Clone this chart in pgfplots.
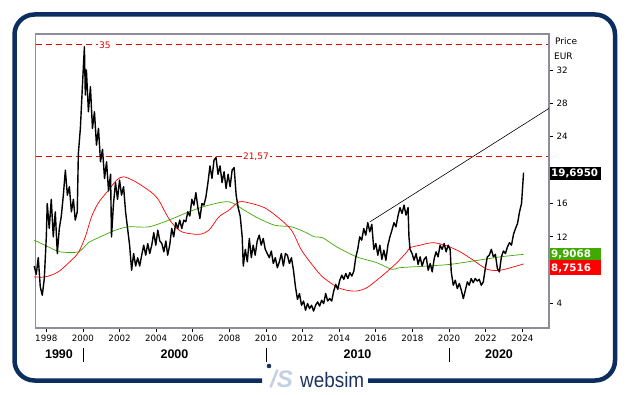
\documentclass[border=0pt]{standalone}
\usepackage{pgfplots}
\pgfplotsset{compat=1.18}
\usepackage{fontspec}
\setmainfont{DejaVu Sans}
\newfontfamily\arialf{Liberation Sans}
\definecolor{navy}{RGB}{12,45,95}
\definecolor{framegray}{RGB}{140,140,155}
\definecolor{magreen}{RGB}{60,170,0}
\definecolor{boxgreen}{RGB}{64,170,0}
\definecolor{lvlred}{RGB}{235,0,0}
\definecolor{logolight}{RGB}{196,208,226}
\definecolor{logonavy}{RGB}{28,50,96}

\begin{document}
\begin{tikzpicture}
\begin{scope}[x=1pt,y=1pt]
\path[use as bounding box] (0,0) rectangle (629,-395);
% outer rounded frame
\draw[navy, line width=4.5pt, rounded corners=20pt]
  (262,-380.5) -- (14.5,-380.5) -- (14.5,-14.5) -- (615,-14.5) -- (615,-380.5) -- (368,-380.5);
% dashed level lines (35 and 21,57)
\foreach \i in {0,...,50} {
  \draw[lvlred, line width=1pt] (36+10*\i,-45) -- (42+10*\i,-45);
  \draw[lvlred, line width=1pt] (36+10*\i,-157) -- (42+10*\i,-157);
}
\draw[lvlred, line width=1pt] (546,-45) -- (549,-45);
\draw[lvlred, line width=1pt] (546,-157) -- (549,-157);
\end{scope}

\begin{axis}[
  at={(35.7pt,-328pt)}, anchor=south west,
  scale only axis, width=513.3pt, height=294pt,
  xmin=1997.42, xmax=2025.46, ymin=1.07, ymax=36.32,
  axis line style={draw=framegray, line width=1.2pt},
  xtick={1998,2000,...,2024}, ytick={4,12,16,24,28,32},
  xtick pos=bottom, ytick pos=right, yticklabel pos=right,
  tick align=outside, major tick length=4pt,
  tick style={black, line width=0.8pt},
  tick label style={font=\fontsize{8.7}{10}\selectfont},
  /pgf/number format/assume math mode=true,
  /pgf/number format/1000 sep={},
  clip=false,
]
\node[fill=white, text=lvlred, inner sep=1.5pt, font=\fontsize{9}{10}\selectfont] at (axis cs:2001.2,35) {35};
\node[fill=white, text=lvlred, inner sep=1.5pt, font=\fontsize{9}{10}\selectfont] at (axis cs:2009.45,21.57) {21,57};

% green MA
\addplot[magreen, line width=0.7pt, smooth] coordinates {
(1997.34,11.6) (1998.11,10.8) (1998.76,10.2) (1999.75,10.2) (2000.30,11.3) (2000.85,11.9)
(2001.78,12.8) (2002.50,13.2) (2003.59,13.2) (2004.69,14.0) (2005.79,15.0) (2006.88,15.8)
(2007.98,16.2) (2008.81,15.2) (2009.52,14.3) (2010.46,13.4) (2011.39,13.2) (2012.10,12.6)
(2012.65,12.0) (2013.09,11.9) (2013.86,10.8) (2014.96,9.6) (2016.05,8.9) (2016.88,8.1)
(2017.32,8.3) (2018.80,8.5) (2020.06,8.7) (2021.32,9.1) (2022.80,9.6) (2024.07,9.9)};

% red MA
\addplot[red, line width=0.7pt, smooth] coordinates {
(1997.34,7.2) (1997.94,7.2) (1998.65,7.8) (1999.37,9.2) (1999.75,10.1) (2000.13,12)
(2000.47,14.4) (2000.85,16.1) (2001.40,17.6) (2001.84,18.8) (2002.22,19.2) (2002.88,18.6)
(2003.76,17.3) (2004.14,16.4) (2004.53,14.8) (2004.85,13.7) (2005.40,12.6) (2006.34,12.3)
(2006.88,12.8) (2007.43,14.4) (2007.98,15.2) (2008.54,16.2) (2009.20,16.0) (2009.91,15.5)
(2010.62,14.4) (2011.39,12.8) (2011.94,10.4) (2012.65,8.3) (2013.09,7.2) (2013.86,6.0)
(2014.41,5.6) (2014.96,5.5) (2015.51,5.9) (2016.05,6.8) (2016.60,7.8) (2017.15,8.9)
(2017.70,10.2) (2017.87,10.7) (2018.42,11) (2019.13,11.3) (2019.90,10.9) (2020.61,10.2)
(2021.32,9.2) (2022.09,8.1) (2022.80,8.0) (2023.52,8.4) (2024.07,8.75)};

% trend line
\addplot[black, line width=0.6pt] coordinates {(2015.68,13.8) (2025.46,27.4)};

% price
\addplot[black, line width=1.4pt, line join=round] coordinates {
(1997.34,8.5) (1997.45,7.5) (1997.56,9.5) (1997.67,6) (1997.78,5) (1997.89,7)
(1998.00,12) (1998.05,16) (1998.16,13) (1998.27,16.5) (1998.38,12) (1998.49,15)
(1998.60,10) (1998.71,13) (1998.82,14.5) (1998.93,17) (1999.04,20) (1999.15,17)
(1999.26,18) (1999.37,15) (1999.48,16.5) (1999.58,14) (1999.69,15) (1999.75,22)
(1999.86,25) (1999.97,30) (2000.08,34.8) (2000.13,29) (2000.19,32) (2000.30,27)
(2000.41,30) (2000.52,25) (2000.63,27) (2000.74,23) (2000.85,25) (2000.96,21)
(2001.07,22.5) (2001.18,19) (2001.29,21) (2001.40,17.5) (2001.51,19.5) (2001.56,12)
(2001.67,16) (2001.78,18.5) (2001.89,16.5) (2002.00,18.8) (2002.11,17) (2002.22,18)
(2002.33,15) (2002.44,13) (2002.55,11) (2002.66,8) (2002.77,10) (2002.88,8.5)
(2002.99,9.5) (2003.10,8.5) (2003.21,9.8) (2003.32,11) (2003.43,9.8) (2003.54,11.2)
(2003.65,10) (2003.76,11) (2003.87,12.5) (2003.98,11) (2004.09,12.8) (2004.20,11.5)
(2004.31,11.2) (2004.42,10.2) (2004.53,11.5) (2004.63,9.8) (2004.74,11) (2004.85,13)
(2004.96,12) (2005.07,13.7) (2005.18,13) (2005.29,14) (2005.40,13) (2005.51,14)
(2005.62,13.8) (2005.73,15) (2005.84,14.5) (2005.95,16.5) (2006.06,15.8) (2006.17,17.3)
(2006.28,15.5) (2006.39,14.2) (2006.50,16) (2006.61,15.8) (2006.72,16.8) (2006.83,18.5)
(2006.94,20.5) (2007.05,19) (2007.16,21.2) (2007.27,21.5) (2007.38,19.5) (2007.49,20.5)
(2007.60,18.5) (2007.71,19.8) (2007.82,17.8) (2007.93,19.5) (2008.04,18) (2008.15,20)
(2008.26,20.3) (2008.37,17) (2008.48,15.5) (2008.59,14.5) (2008.70,12) (2008.76,8.5)
(2008.87,10.5) (2008.98,9) (2009.09,11.8) (2009.20,9.5) (2009.30,11) (2009.41,9.8)
(2009.52,11.5) (2009.63,12.2) (2009.74,11) (2009.85,11.8) (2009.96,10.5) (2010.07,10)
(2010.18,9.5) (2010.29,10.3) (2010.40,8.8) (2010.51,9.5) (2010.62,8.3) (2010.73,9)
(2010.84,10) (2010.95,8.5) (2011.06,10) (2011.17,9.8) (2011.28,8.8) (2011.39,9.5)
(2011.50,8) (2011.61,6) (2011.72,4.5) (2011.83,5.2) (2011.94,3.8) (2012.05,4.3)
(2012.16,3.2) (2012.27,4) (2012.38,3.4) (2012.49,3.8) (2012.60,3.1) (2012.71,3.8)
(2012.82,4.2) (2012.93,3.7) (2013.04,4.4) (2013.15,4.0) (2013.26,5.2) (2013.37,4.3)
(2013.48,4.6) (2013.59,4.3) (2013.70,5.5) (2013.81,6.3) (2013.92,5.7) (2014.03,6.8)
(2014.14,7.4) (2014.25,6.9) (2014.36,7.6) (2014.47,7.0) (2014.58,7.7) (2014.69,7.3)
(2014.80,7.9) (2014.90,9.5) (2015.01,10.5) (2015.12,12) (2015.23,11.6) (2015.34,13)
(2015.45,12.2) (2015.56,13.7) (2015.67,12.6) (2015.78,13.5) (2015.89,10.5) (2016.00,11.2)
(2016.11,9.8) (2016.22,11) (2016.33,9.3) (2016.44,10.4) (2016.55,9.2) (2016.66,11)
(2016.77,12) (2016.88,12.8) (2016.99,13.7) (2017.10,13.2) (2017.21,14.5) (2017.32,15.5)
(2017.43,14.8) (2017.54,15.8) (2017.65,14.6) (2017.76,15.5) (2017.81,12) (2017.87,10.5)
(2017.98,10) (2018.09,9.2) (2018.20,10) (2018.31,8.7) (2018.42,9.6) (2018.53,8.5)
(2018.64,9.3) (2018.75,9.6) (2018.86,8) (2018.97,8.8) (2019.08,7.8) (2019.19,9.4)
(2019.29,10.2) (2019.40,9.6) (2019.51,11) (2019.62,10.5) (2019.73,11.2) (2019.84,10.2)
(2019.95,11) (2020.06,10.5) (2020.12,7.8) (2020.23,6.2) (2020.34,6.8) (2020.45,5.8)
(2020.56,6.4) (2020.67,5.6) (2020.78,4.6) (2020.89,5.6) (2021.00,6.6) (2021.10,6.2)
(2021.21,7) (2021.32,6.5) (2021.43,7) (2021.54,6.7) (2021.65,6.9) (2021.76,6.2)
(2021.87,6.6) (2021.98,8.2) (2022.09,9.6) (2022.20,9.8) (2022.31,10.5) (2022.42,9.6)
(2022.53,9.9) (2022.64,8.2) (2022.75,7.8) (2022.86,9.6) (2022.97,10.3) (2023.08,10)
(2023.19,10.8) (2023.30,11.3) (2023.41,11) (2023.52,12.3) (2023.63,13) (2023.74,13.6)
(2023.85,15) (2023.96,16) (2024.07,19.695)};
\end{axis}

\begin{scope}[x=1pt,y=1pt]
% right side labels
\node[anchor=west, inner sep=0, font=\fontsize{9}{10}\selectfont] at (555,-41) {Price};
\node[anchor=west, inner sep=0, font=\fontsize{9}{10}\selectfont] at (554,-56.7) {EUR};

% value boxes
\node[anchor=west, fill=black, text=white, inner xsep=1.5pt, inner ysep=0pt, minimum height=13pt, text width=48pt, align=left, font=\bfseries\fontsize{10.3}{11}\selectfont] at (549.5,-173.5) {19,6950};
\node[anchor=west, fill=boxgreen, text=white, inner xsep=1.5pt, inner ysep=0pt, minimum height=12pt, text width=48pt, align=left, font=\bfseries\fontsize{10.3}{11}\selectfont] at (549.5,-254) {9,9068};
\node[anchor=west, fill=red, text=white, inner xsep=1.5pt, inner ysep=0pt, minimum height=15pt, text width=48pt, align=left, font=\bfseries\fontsize{10.3}{11}\selectfont] at (549.5,-268) {8,7516};

% decade row
\draw[black, line width=0.9pt] (83,-348) -- (83,-362);
\draw[black, line width=0.9pt] (266,-348) -- (266,-362);
\draw[black, line width=0.9pt] (449,-348) -- (449,-362);
\foreach \xx/\lab in {59/1990, 174.5/2000, 357.5/2010, 499/2020}
  \node[font=\arialf\bfseries\fontsize{12.5}{13}\selectfont, inner sep=0] at (\xx,-353.7) {\lab};

% logo
\fill[logonavy] (269,-366) circle (2.3);
\node[anchor=base west, inner sep=0, text=logolight, font=\arialf\bfseries\itshape\fontsize{24}{24}\selectfont] at (270,-387.5) {/S};
\node[anchor=base west, inner sep=0, text=logonavy, xscale=0.9, font=\arialf\fontsize{21}{21}\selectfont] at (300,-387) {websim};
\end{scope}
\end{tikzpicture}
\end{document}
